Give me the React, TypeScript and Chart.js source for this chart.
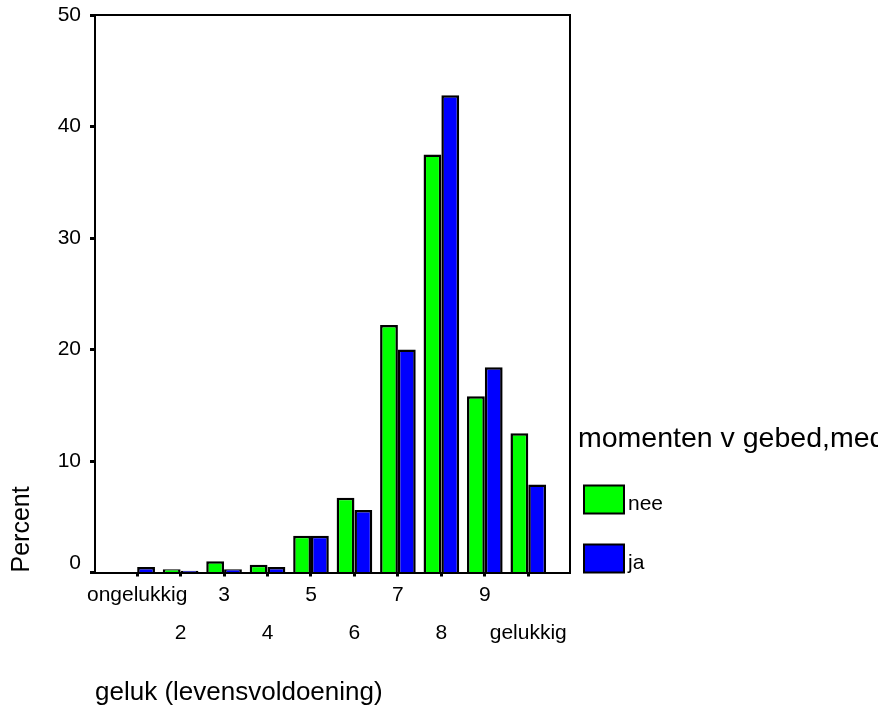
import React, { useEffect, useRef } from "react";
import { Chart, registerables } from "chart.js";

Chart.register(...registerables);

const CATEGORIES = ["ongelukkig", "2", "3", "4", "5", "6", "7", "8", "9", "gelukkig"];
const SERIES_NAMES = ["nee", "ja"];
const NEE_VALUES = [0, 0.3, 1.0, 0.7, 3.3, 6.7, 22.2, 37.5, 15.8, 12.5];
const JA_VALUES = [0.5, 0.15, 0.3, 0.5, 3.3, 5.6, 20.0, 42.8, 18.4, 7.9];
const Y_TICKS = [0, 10, 20, 30, 40, 50];
const LEGEND_TITLE = "momenten v gebed,med";
const X_TITLE = "geluk (levensvoldoening)";
const Y_TITLE = "Percent";

const FONT = "'Liberation Sans', Arial, Helvetica, sans-serif";
const W = 878;
const H = 713;

const sideLegend = {
  id: "sideLegend",
  afterDraw(chart: any) {
    const { ctx, chartArea } = chart;
    const datasets = chart.data.datasets;
    const boxW = 40;
    const boxH = 28;
    const step = 59;
    const boxX = chartArea.right + 14;
    const lastTop = chartArea.bottom - boxH;
    const firstTop = lastTop - step * (datasets.length - 1);
    ctx.save();
    ctx.textAlign = "left";
    ctx.textBaseline = "alphabetic";
    ctx.fillStyle = "#000";
    ctx.font = `28.5px ${FONT}`;
    ctx.fillText(LEGEND_TITLE, chartArea.right + 8, firstTop - 39);
    datasets.forEach((ds: any, i: number) => {
      const top = firstTop + i * step;
      ctx.fillStyle = ds.backgroundColor;
      ctx.fillRect(boxX, top, boxW, boxH);
      ctx.lineWidth = 2;
      ctx.strokeStyle = "#000";
      ctx.strokeRect(boxX, top, boxW, boxH);
      ctx.fillStyle = "#000";
      ctx.font = `21px ${FONT}`;
      ctx.fillText(ds.label, boxX + boxW + 4, top + 24.5);
    });
    ctx.restore();
  },
};

export default function App() {
  const ref = useRef<HTMLCanvasElement | null>(null);

  useEffect(() => {
    if (!ref.current) return;
    const toPoints = (arr: number[]) => arr.map((v, i) => ({ x: i + 1, y: v }));
    const barStyle = {
      borderColor: "#000",
      borderWidth: 2.5,
      borderSkipped: "start",
      categoryPercentage: 0.82,
      barPercentage: 1,
      xAxisID: "x",
      yAxisID: "y",
    };
    const chart = new Chart(ref.current, {
      type: "bar",
      data: {
        datasets: [
          { label: SERIES_NAMES[0], data: toPoints(NEE_VALUES), backgroundColor: "#00ff00", ...barStyle },
          { label: SERIES_NAMES[1], data: toPoints(JA_VALUES), backgroundColor: "#0000ff", ...barStyle },
        ] as any,
      },
      options: {
        responsive: false,
        animation: false,
        devicePixelRatio: 1,
        layout: { padding: { top: 15, right: 308, left: 0, bottom: 0 } },
        plugins: {
          legend: { display: false },
          tooltip: { enabled: false },
        },
        scales: {
          x: {
            type: "linear",
            position: "bottom",
            min: 0.03,
            max: 10.96,
            offset: false,
            afterBuildTicks: (s: any) => {
              s.ticks = CATEGORIES.map((_, i) => ({ value: i + 1 }));
            },
            afterFit: (s: any) => {
              s.height = 140.5;
              s.paddingLeft = 0;
              s.paddingRight = 0;
            },
            ticks: {
              autoSkip: false,
              maxRotation: 0,
              minRotation: 0,
              color: "#000",
              padding: 0,
              font: { family: FONT, size: 21, lineHeight: "38px" },
              callback: (v: any) => {
                const i = Math.round(Number(v)) - 1;
                const lbl = CATEGORIES[i] ?? "";
                return i % 2 === 0 ? lbl : ["", lbl];
              },
            },
            grid: {
              offset: false,
              drawOnChartArea: false,
              color: "#000",
              tickLength: 4,
              tickWidth: 3,
            },
            border: { color: "#000", width: 2 },
            title: {
              display: true,
              text: X_TITLE,
              align: "start",
              color: "#000",
              font: { family: FONT, size: 26 },
              padding: { top: 0, bottom: 5 },
            },
          },
          xTop: {
            type: "linear",
            axis: "x",
            position: "top",
            min: 0,
            max: 1,
            offset: false,
            ticks: { display: false },
            grid: { display: false, drawTicks: false, offset: false },
            border: { color: "#000", width: 2 },
            afterFit: (s: any) => {
              s.height = 0;
              s.paddingLeft = 0;
              s.paddingRight = 0;
            },
          },
          y: {
            type: "linear",
            position: "left",
            min: 0,
            max: 50,
            afterBuildTicks: (s: any) => {
              s.ticks = Y_TICKS.map((v) => ({ value: v }));
            },
            afterFit: (s: any) => {
              s.width = 95;
              s.paddingTop = 0;
              s.paddingBottom = 0;
            },
            ticks: {
              color: "#000",
              padding: 9,
              font: { family: FONT, size: 21, lineHeight: 0.9 },
              callback: (v: any) => (Number(v) === 0 ? [String(v), ""] : String(v)),
            },
            grid: {
              drawOnChartArea: false,
              color: "#000",
              tickLength: 5,
              tickWidth: 3,
            },
            border: { color: "#000", width: 2 },
            title: {
              display: true,
              text: Y_TITLE,
              align: "start",
              color: "#000",
              font: { family: FONT, size: 25 },
              padding: { top: 7, bottom: 0 },
            },
          },
          yRight: {
            type: "linear",
            axis: "y",
            position: "right",
            min: 0,
            max: 50,
            ticks: { display: false },
            grid: { display: false, drawTicks: false },
            border: { color: "#000", width: 2 },
            afterFit: (s: any) => {
              s.width = 0;
              s.paddingTop = 0;
              s.paddingBottom = 0;
            },
          },
        },
      } as any,
      plugins: [sideLegend],
    });
    return () => chart.destroy();
  }, []);

  return (
    <div style={{ position: "absolute", left: 0, top: 0, width: W, height: H, background: "#fff" }}>
      <canvas ref={ref} width={W} height={H} style={{ display: "block" }} />
    </div>
  );
}
